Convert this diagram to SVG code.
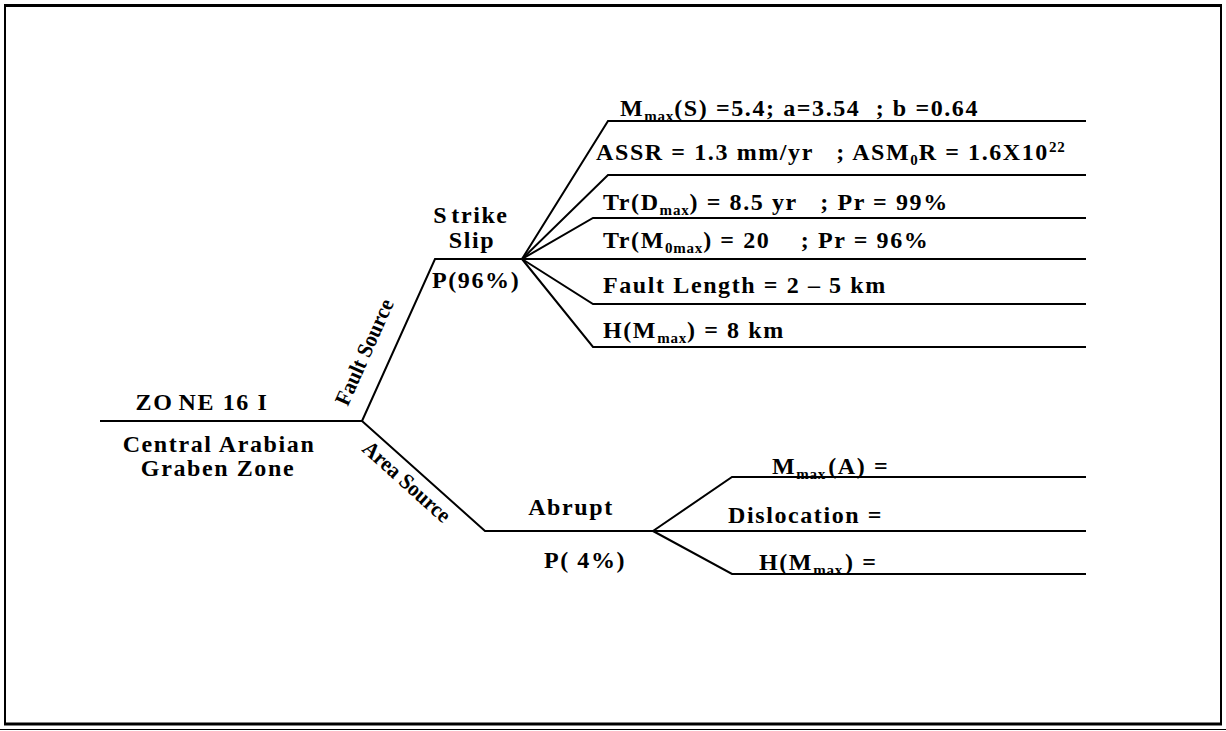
<svg xmlns="http://www.w3.org/2000/svg" width="1226" height="731" viewBox="0 0 1226 731">
<style>
.t{font-family:"Liberation Serif","Times New Roman",serif;font-weight:bold;font-size:24px;letter-spacing:1.6px;fill:#000}
.c{text-anchor:middle}
.s{font-size:15px;letter-spacing:0.8px}
.r{font-family:"Liberation Serif","Times New Roman",serif;font-weight:bold;font-size:22px;fill:#000;text-anchor:middle}
.ln{stroke:#000;stroke-width:2;fill:none;stroke-linejoin:miter}
</style>
<rect x="0" y="0" width="1226" height="731" fill="#fff"/>
<g id="frame">
<line x1="5" y1="5.5" x2="1222" y2="5.5" stroke="#000" stroke-width="3"/>
<line x1="5" y1="4" x2="5" y2="725" stroke="#000" stroke-width="2"/>
<line x1="1221" y1="4" x2="1221" y2="725" stroke="#000" stroke-width="2"/>
<line x1="4" y1="724" x2="1222" y2="724" stroke="#000" stroke-width="3"/>
<line x1="0" y1="729.5" x2="1226" y2="729.5" stroke="#000" stroke-width="1"/>
</g>
<g id="connectors">
<polyline class="ln" points="100,421 362,421"/>
<polyline class="ln" points="362,421 435,259 522,259"/>
<polyline class="ln" points="362,421 485,531 653,531"/>
<polyline class="ln" points="522,259 608,121 1086,121"/>
<polyline class="ln" points="522,259 608,175 1086,175"/>
<polyline class="ln" points="522,259 593,218 1086,218"/>
<polyline class="ln" points="522,259 1086,259"/>
<polyline class="ln" points="522,259 593,304 1086,304"/>
<polyline class="ln" points="522,259 593,347 1086,347"/>
<polyline class="ln" points="653,531 732,477 1086,477"/>
<polyline class="ln" points="653,531 1086,531"/>
<polyline class="ln" points="653,531 732,574 1086,574"/>
</g>
<g id="zone">
<text class="t c" x="202" y="410">ZO<tspan dx="5">NE 16 I</tspan></text>
<text class="t c" x="219" y="452">Central Arabian</text>
<text class="t c" x="218" y="476">Graben Zone</text>
</g>
<g id="fault-source-label">
<text class="r" transform="translate(371,355) rotate(-66) scale(0.95,1)">Fault Source</text>
</g>
<g id="area-source-label">
<text class="r" transform="translate(402,487) rotate(42) scale(0.95,1)">Area Source</text>
</g>
<g id="strike-slip">
<text class="t c" x="471" y="223">S<tspan dx="3">trike</tspan></text>
<text class="t c" x="472" y="248">Slip</text>
<text class="t" x="432" y="288">P(96%)</text>
</g>
<g id="strike-params">
<text class="t" x="620" y="116" xml:space="preserve">M<tspan class="s" dy="5">max</tspan><tspan dy="-5">(S) =5.4; a=3.54  ; b =0.64</tspan></text>
<text class="t" x="596" y="160" xml:space="preserve">ASSR = 1.3 mm/yr   ; ASM<tspan class="s" dy="5">0</tspan><tspan dy="-5">R = 1.6X10</tspan><tspan class="s" dy="-8">22</tspan></text>
<text class="t" x="603" y="210" xml:space="preserve">Tr(D<tspan class="s" dy="5">max</tspan><tspan dy="-5">) = 8.5 yr   ; Pr = 99%</tspan></text>
<text class="t" x="603" y="248" xml:space="preserve">Tr(M<tspan class="s" dy="5">0max</tspan><tspan dy="-5">) = 20    ; Pr = 96%</tspan></text>
<text class="t" x="603" y="293">Fault Length = 2 – 5 km</text>
<text class="t" x="603" y="338">H(M<tspan class="s" dy="5">max</tspan><tspan dy="-5">) = 8 km</tspan></text>
</g>
<g id="abrupt">
<text class="t c" x="571" y="515">Abrupt</text>
<text class="t c" x="585" y="568">P( 4%)</text>
</g>
<g id="abrupt-params">
<text class="t" x="772" y="474">M<tspan class="s" dy="5">max</tspan><tspan dy="-5" dx="2">(A) =</tspan></text>
<text class="t" x="728" y="523">Dislocation =</text>
<text class="t" x="759" y="570">H(M<tspan class="s" dy="5">max</tspan><tspan dy="-5" dx="2">) =</tspan></text>
</g>
</svg>
